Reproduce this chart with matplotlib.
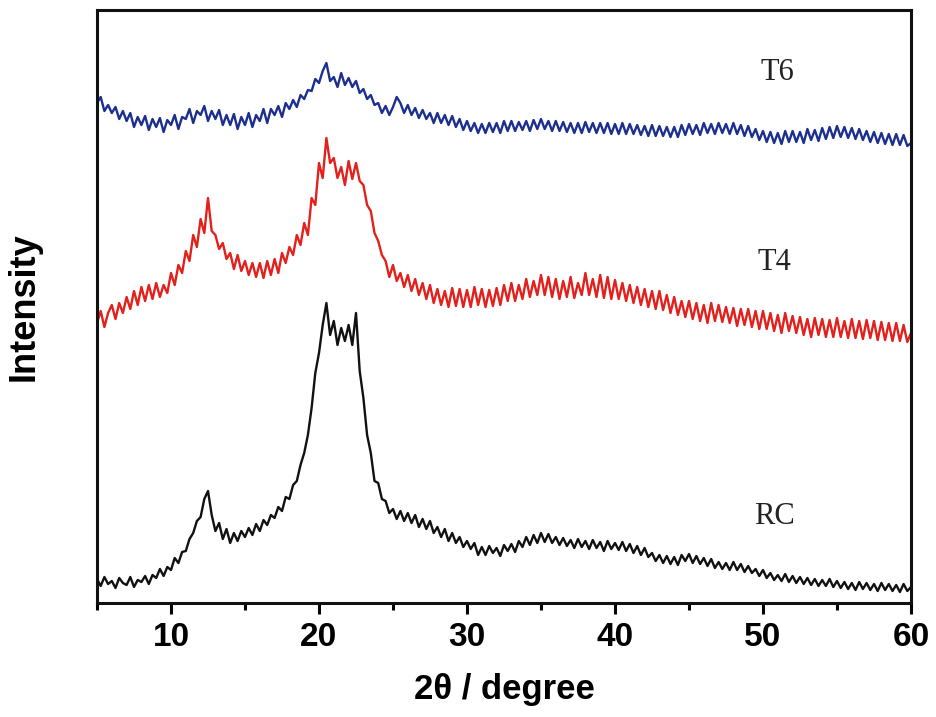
import numpy as np
import matplotlib
matplotlib.use("Agg")
import matplotlib.pyplot as plt
from matplotlib.ticker import MultipleLocator

# 2-theta grid: 5 to 60 degrees, 0.25 degree step (221 points)
two_theta = np.linspace(5, 60, 221)

# Intensities (arbitrary units, stacked with offsets as in the figure)
rc = [
    24, 17, 26, 19, 22, 15, 25, 20,
    18, 26, 16, 23, 21, 27, 19, 28,
    25, 34, 27, 36, 33, 45, 40, 51,
    52, 64, 70, 82, 86, 104, 112, 88,
    72, 80, 64, 74, 60, 70, 62, 72,
    66, 75, 68, 79, 72, 83, 78, 88,
    85, 96, 92, 106, 104, 118, 122, 138,
    150, 168, 195, 230, 250, 278, 300, 268,
    282, 258, 275, 262, 278, 258, 290, 232,
    205, 168, 150, 122, 120, 104, 102, 90,
    94, 84, 92, 82, 90, 80, 88, 76,
    84, 74, 82, 70, 76, 66, 74, 62,
    70, 60, 66, 56, 62, 54, 60, 48,
    56, 48, 57, 50, 55, 47, 58, 52,
    59, 51, 62, 56, 66, 58, 68, 60,
    70, 61, 69, 60, 66, 58, 65, 57,
    63, 55, 64, 56, 62, 54, 63, 55,
    61, 52, 62, 54, 60, 53, 61, 52,
    59, 50, 57, 48, 55, 46, 50, 42,
    48, 40, 47, 39, 46, 38, 48, 42,
    49, 40, 47, 39, 45, 37, 44, 35,
    41, 34, 40, 33, 41, 33, 39, 31,
    37, 30, 34, 27, 33, 25, 30, 23,
    28, 22, 29, 21, 27, 20, 26, 19,
    25, 18, 24, 17, 23, 17, 24, 16,
    22, 15, 21, 14, 20, 13, 21, 14,
    20, 13, 19, 12, 20, 13, 19, 12,
    18, 11, 19, 12, 16,
]

t4 = [
    280, 292, 276, 290, 298, 284, 300, 290,
    306, 294, 312, 298, 316, 302, 318, 304,
    320, 306, 318, 310, 330, 318, 338, 330,
    352, 342, 368, 356, 384, 370, 405, 372,
    368, 354, 360, 344, 350, 334, 348, 332,
    342, 328, 340, 326, 340, 325, 342, 328,
    344, 330, 350, 340, 356, 348, 368, 358,
    380, 368, 405, 398, 440, 425, 465, 440,
    445, 425, 436, 418, 442, 424, 440, 422,
    418, 398, 392, 370, 362, 348, 342, 326,
    338, 322, 330, 316, 328, 312, 324, 308,
    320, 304, 318, 300, 314, 298, 312, 296,
    315, 297, 314, 296, 313, 296, 316, 298,
    314, 296, 313, 297, 315, 298, 318, 302,
    320, 302, 318, 304, 324, 306, 322, 308,
    328, 308, 326, 306, 324, 304, 322, 306,
    326, 305, 320, 308, 330, 308, 324, 306,
    328, 305, 326, 304, 323, 304, 320, 302,
    318, 300, 316, 298, 314, 296, 312, 294,
    312, 293, 308, 290, 306, 288, 302, 286,
    302, 284, 300, 282, 298, 280, 300, 282,
    298, 281, 296, 280, 295, 277, 294, 278,
    294, 276, 292, 274, 292, 274, 290, 272,
    288, 270, 290, 272, 287, 270, 286, 268,
    284, 266, 285, 268, 284, 266, 283, 266,
    285, 266, 282, 265, 284, 265, 282, 264,
    283, 265, 282, 263, 281, 263, 280, 262,
    280, 262, 278, 261, 270,
]

t6 = [
    500, 506, 492, 498, 490, 496, 484, 492,
    482, 490, 476, 486, 478, 487, 473, 484,
    476, 485, 471, 483, 478, 488, 474, 486,
    484, 494, 480, 492, 488, 497, 482, 492,
    484, 493, 478, 488, 478, 489, 474, 486,
    478, 490, 476, 488, 482, 494, 480, 494,
    488, 497, 486, 500, 494, 503, 496, 508,
    504, 513, 512, 524, 520, 532, 540, 522,
    526, 516, 530, 518, 525, 516, 522, 510,
    514, 504, 508, 498, 500, 490, 497, 488,
    496, 506, 500, 490, 498, 488, 495, 485,
    493, 484, 490, 480, 490, 480, 488, 478,
    487, 476, 484, 473, 482, 472, 480, 470,
    479, 470, 480, 471, 480, 470, 482, 472,
    482, 472, 481, 473, 482, 472, 483, 474,
    484, 474, 482, 472, 482, 472, 481, 471,
    480, 470, 480, 470, 481, 471, 480, 470,
    480, 470, 480, 469, 479, 469, 480, 469,
    479, 469, 478, 468, 477, 467, 478, 467,
    477, 467, 476, 466, 476, 466, 478, 468,
    479, 469, 478, 468, 480, 470, 479, 469,
    480, 470, 479, 469, 480, 469, 478, 467,
    477, 466, 474, 463, 472, 461, 471, 460,
    470, 459, 472, 461, 472, 461, 471, 460,
    474, 463, 473, 462, 475, 464, 476, 465,
    477, 466, 476, 465, 475, 464, 474, 463,
    472, 461, 471, 460, 470, 459, 469, 458,
    469, 458, 468, 457, 460,
]

series_names = ["T6", "T4", "RC"]
x_ticks = [10, 20, 30, 40, 50, 60]

fig = plt.figure(figsize=(9.37, 7.17), dpi=100)
ax = fig.add_axes([97 / 937, 114 / 717, 814 / 937, 593 / 717])

ax.plot(two_theta, t6, color="#1c2f8e", lw=1.7)
ax.plot(two_theta, t4, color="#e3201b", lw=1.7)
ax.plot(two_theta, rc, color="#111111", lw=1.7)

ax.set_xlim(5, 60)
ax.set_ylim(0, 593)

label_font = dict(family="Liberation Serif", fontsize=22, color="#222222")
ax.text(50.95, 531, series_names[0], ha="center", va="center", **label_font)
ax.text(50.75, 341, series_names[1], ha="center", va="center", **label_font)
ax.text(50.75, 86, series_names[2], ha="center", va="center", **label_font)

for s in ax.spines.values():
    s.set_linewidth(2.2)
    s.set_color("#111111")

sans = dict(family="Liberation Sans", weight="bold", stretch="normal")

ax.set_yticks([])
ax.set_xticks(x_ticks)
ax.xaxis.set_minor_locator(MultipleLocator(5))
ax.tick_params(axis="x", which="major", direction="out", length=8, width=2.2,
               labelsize=24, pad=6)
ax.tick_params(axis="x", which="minor", direction="out", length=5, width=2.2)
for lab in ax.get_xticklabels():
    lab.set_fontweight("bold")
    lab.set_family("Liberation Sans")
    lab.set_fontstretch("normal")

ax.set_xlabel("2θ / degree", fontsize=25, labelpad=14, **sans)
ax.set_ylabel("Intensity", fontsize=26, labelpad=40, **sans)

fig.savefig("out.png", dpi=100)
